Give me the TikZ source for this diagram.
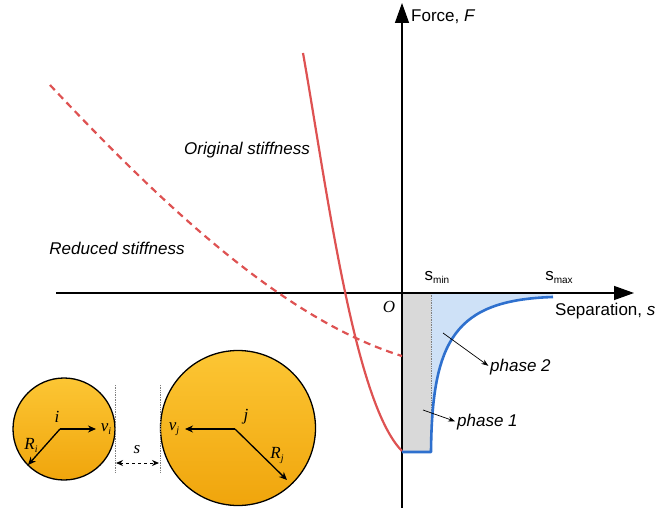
\documentclass[tikz,border=0pt]{standalone}
\usepackage{fontspec}
\newfontfamily\arialf{Liberation Sans}
\newfontfamily\tmsf{Liberation Serif}
\usetikzlibrary{arrows.meta}
\definecolor{redc}{RGB}{222,82,82}
\definecolor{bluec}{RGB}{46,112,206}
\definecolor{bluefill}{RGB}{206,225,247}
\definecolor{grayfill}{RGB}{217,217,217}
\definecolor{balltop}{RGB}{252,198,52}
\definecolor{ballbot}{RGB}{240,165,12}
\newcommand{\subtx}[1]{\raisebox{-3pt}{\fontsize{10}{12}\selectfont #1}}
\begin{document}
\begin{tikzpicture}[x=1pt,y=-1pt,
  sanslbl/.style={font=\arialf\itshape\fontsize{17}{20}\selectfont, inner sep=0},
  axlbl/.style={font=\arialf\fontsize{17}{20}\selectfont, inner sep=0},
  serlbl/.style={font=\tmsf\itshape\fontsize{17}{20}\selectfont, inner sep=0},
  axisline/.style={line width=1.4pt, -{Triangle[length=20pt,width=14pt]}},
  redline/.style={draw=redc, line width=2.2pt},
  ball/.style={circle, draw=black, line width=1.3pt, top color=balltop, bottom color=ballbot, inner sep=0},
  vec/.style={line width=1.3pt, -{Stealth[length=8pt,width=7pt]}},
  thinarrow/.style={line width=0.7pt, -{Stealth[length=7pt,width=5pt]}, shorten >=2pt},
  guide/.style={draw=gray, line width=0.7pt, densely dotted}
]
\useasboundingbox (0,0) rectangle (658,508);

% fills
\fill[grayfill] (402,293) rectangle (431,452);
\fill[bluefill] (431,293) -- (553,293) -- (553,297) .. controls (455,300) and (432,340) .. (431,452) -- cycle;
\draw[guide] (431,293) -- (431,452);

% axes
\coordinate (xs) at (56,293);
\coordinate (xe) at (634,293);
\coordinate (ys) at (402,508);
\coordinate (ye) at (402,3);
\draw[axisline] (xs) -- (xe);
\draw[axisline] (ys) -- (ye);

% curves
\draw[redline] (303,53) .. controls (326,183) and (354,403) .. (402,451);
\draw[redline, dash pattern=on 7pt off 5pt] (50,85) .. controls (160,202) and (282,319) .. (402,356);
\draw[bluec, line width=2.6pt, line join=round] (402,452) -- (431,452) .. controls (432,340) and (455,300) .. (553,297);

% labels
\node[axlbl, anchor=west] (flbl) at (411,17) {Force, \textit{F}};
\node[axlbl, anchor=west] (slbl) at (555,311) {Separation, \textit{s}};
\node[serlbl] (olbl) at (389,307) {O};
\node[axlbl] (smin) at (437,277) {s\subtx{min}};
\node[axlbl] (smax) at (559,277) {s\subtx{max}};
\node[sanslbl] (orig) at (247,150) {Original stiffness};
\node[sanslbl] (red) at (117,248) {Reduced stiffness};
\node[sanslbl, anchor=west] (ph2) at (490,367) {phase 2};
\node[sanslbl, anchor=west] (ph1) at (457,422) {phase 1};
\coordinate (p2s) at (443,333);
\coordinate (p1s) at (423,410);
\draw[thinarrow] (p2s) -- (ph2.west);
\draw[thinarrow] (p1s) -- (ph1.west);

% particles
\node[ball, minimum size=102pt] (bi) at (64,429) {};
\node[ball, minimum size=155pt] (bj) at (238,428) {};
\draw[guide] (115,385) -- (115,472);
\draw[guide] (160,385) -- (160,472);
\coordinate (ic) at (60,429);
\coordinate (jc) at (235,429);
\coordinate (vi) at (96,429);
\coordinate (ri) at (28,465);
\coordinate (vj) at (185,429);
\coordinate (rj) at (287,480);
\draw[vec] (ic) -- (vi);
\draw[vec] (ic) -- (ri);
\draw[vec] (jc) -- (vj);
\draw[vec] (jc) -- (rj);
\node[serlbl] (il) at (57,417) {i};
\node[serlbl] (jl) at (246,417) {j};
\node[serlbl] (vil) at (106,429) {v\subtx{i}};
\node[serlbl] (vjl) at (174,429) {v\subtx{j}};
\node[serlbl] (ril) at (31,445) {R\subtx{i}};
\node[serlbl] (rjl) at (277,455) {R\subtx{j}};
\coordinate (sa) at (116,463);
\coordinate (sb) at (159,463);
\draw[line width=1pt, dashed, {Stealth[length=7pt,width=6pt]}-{Stealth[length=7pt,width=6pt]}] (sa) -- (sb);
\node[serlbl] (sl) at (137,450) {s};
\end{tikzpicture}
\end{document}
